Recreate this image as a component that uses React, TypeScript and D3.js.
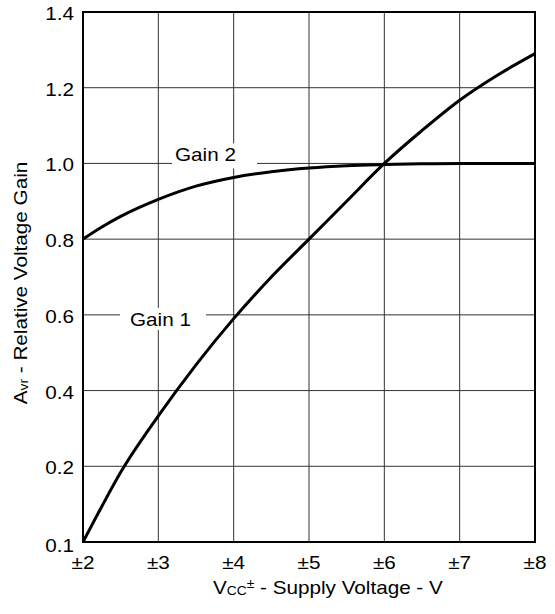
import React from "react";
import * as d3 from "d3";

// supply voltage (±V)
const supply = [2, 2.25, 2.5, 3, 3.5, 4, 4.5, 5, 5.5, 6, 6.5, 7, 7.5, 8];
const gain1 = [0.1, 0.147, 0.192, 0.333, 0.468, 0.59, 0.7, 0.8, 0.9, 1.0, 1.087, 1.167, 1.233, 1.29];
const gain2 = [0.8, 0.832, 0.86, 0.905, 0.94, 0.963, 0.978, 0.988, 0.994, 0.997, 0.999, 1.0, 1.0, 1.0];

const xTicks = [2, 3, 4, 5, 6, 7, 8];
const xTickLabels = ["±2", "±3", "±4", "±5", "±6", "±7", "±8"];
const yTicks = [0.1, 0.2, 0.4, 0.6, 0.8, 1.0, 1.2, 1.4];
const yTickLabels = ["0.1", "0.2", "0.4", "0.6", "0.8", "1.0", "1.2", "1.4"];

const W = 555;
const H = 614;
const margin = { top: 12, right: 20, bottom: 72, left: 83 };
const FONT = "'Liberation Sans', Arial, Helvetica, sans-serif";
const FS = 18;
const SX = 1.15; // the original lettering is a bit wide

function WideText({
  x,
  y,
  anchor = "start",
  rotate = 0,
  children,
}: {
  x: number;
  y: number;
  anchor?: string;
  rotate?: number;
  children: React.ReactNode;
}) {
  return (
    <text
      transform={`translate(${x},${y}) rotate(${rotate}) scale(${SX},1)`}
      textAnchor={anchor}
      fontSize={FS}
      fill="#000"
    >
      {children}
    </text>
  );
}

export default function App() {
  const innerW = W - margin.left - margin.right;
  const innerH = H - margin.top - margin.bottom;

  const x = d3.scaleLinear().domain([2, 8]).range([0, innerW]);
  // bottom interval of the printed axis is labelled 0.1 (not 0.0)
  const y = d3
    .scaleLinear()
    .domain([0.1, 0.2, 1.4])
    .range([innerH, (innerH * 6) / 7, 0]);

  const line = d3
    .line<number>()
    .x((_, i) => x(supply[i]))
    .y((d) => y(d))
    .curve(d3.curveMonotoneX);

  return (
    <svg
      width={W}
      height={H}
      style={{ position: "absolute", left: 0, top: 0, background: "#fff" }}
      fontFamily={FONT}
    >
      <g transform={`translate(${margin.left},${margin.top})`}>
        {/* grid */}
        {xTicks.map((t) => (
          <line key={"gx" + t} x1={x(t)} x2={x(t)} y1={0} y2={innerH} stroke="#333" strokeWidth={1} />
        ))}
        {yTicks.map((t) => (
          <line key={"gy" + t} x1={0} x2={innerW} y1={y(t)} y2={y(t)} stroke="#333" strokeWidth={1} />
        ))}

        {/* curve labels with white knock-out */}
        <rect x={89} y={y(1.0) - 20} width={85} height={25} fill="#fff" />
        <WideText x={92} y={y(1.0) - 2}>Gain 2</WideText>
        <rect x={37} y={y(0.6) - 7} width={86} height={22} fill="#fff" />
        <WideText x={47} y={y(0.6) + 11}>Gain 1</WideText>

        {/* curves */}
        <path d={line(gain2) || ""} fill="none" stroke="#000" strokeWidth={3} />
        <path d={line(gain1) || ""} fill="none" stroke="#000" strokeWidth={3} />

        {/* frame */}
        <rect x={0} y={0} width={innerW} height={innerH} fill="none" stroke="#000" strokeWidth={2} />

        {/* y tick labels */}
        {yTicks.map((t, i) => (
          <WideText key={"ly" + t} x={-9} y={y(t) + (i === 0 ? 10 : 8)} anchor="end">
            {yTickLabels[i]}
          </WideText>
        ))}

        {/* x tick labels */}
        {xTicks.map((t, i) => (
          <WideText key={"lx" + t} x={x(t)} y={innerH + 27} anchor="middle">
            {xTickLabels[i]}
          </WideText>
        ))}

        {/* x title */}
        <WideText x={130} y={innerH + 52}>
          V
          <tspan fontSize={12} dy={1}>CC</tspan>
          <tspan fontSize={12} dy={-7}>±</tspan>
          <tspan dy={6}>{"  - Supply Voltage - V"}</tspan>
        </WideText>

        {/* y title */}
        <WideText x={-margin.left + 27} y={271} anchor="middle" rotate={-90}>
          A
          <tspan fontSize={12} dy={1}>vr</tspan>
          <tspan dy={-1}> - Relative Voltage Gain</tspan>
        </WideText>
      </g>
    </svg>
  );
}
